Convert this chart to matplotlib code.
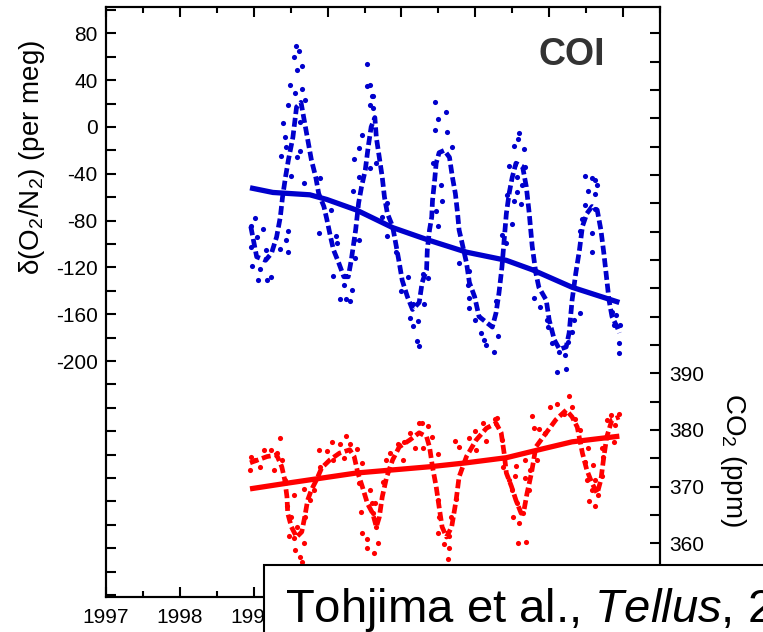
import numpy as np
import matplotlib

matplotlib.use("Agg")
import matplotlib.pyplot as plt
from matplotlib.patches import Rectangle
from matplotlib.ticker import MultipleLocator

plt.rcParams["font.family"] = ["Liberation Sans", "DejaVu Sans"]
plt.rcParams["mathtext.fontset"] = "custom"
plt.rcParams["mathtext.rm"] = "Liberation Sans"
plt.rcParams["mathtext.it"] = "Liberation Sans:italic"
plt.rcParams["mathtext.bf"] = "Liberation Sans:bold"
plt.rcParams["mathtext.default"] = "regular"

BLUE = "#0000cc"
RED = "#ff0000"

# ----------------------------------------------------------------------
# Data (Cape Ochi-ishi, COI)
# ----------------------------------------------------------------------
YEARS = [1997, 1998, 1999, 2000, 2001, 2002, 2003, 2004]
YEAR_LABELS = [1997, 1998, 1999]  # the rest sit behind the citation box
O2_LABELS = [80, 40, 0, -40, -80, -120, -160, -200]
CO2_LABELS = [360, 370, 380, 390]

# O2/N2 flask values (year, per meg)
O2_DOTS = [
    (1999.57, 69), (1999.61, 65), (1999.54, 60), (1999.65, 52), (1999.59, 49),
    (1999.49, 36), (1999.56, 29), (1999.66, 32), (1999.47, 19), (1999.70, 23),
    (1999.39, 3), (1999.62, 4), (1999.43, -9), (1999.44, -17), (1999.62, -21),
    (1999.37, -25), (1999.58, -26), (1999.51, -42), (1999.68, -48), (1999.90, -44),
    (1999.02, -78), (1998.96, -85), (1999.13, -87), (1999.47, -89), (1999.44, -97),
    (1999.04, -94), (1998.96, -103), (1999.36, -104), (1999.46, -107), (1999.16, -105),
    (1998.97, -119), (1999.08, -121), (1999.23, -128), (1999.06, -131), (1999.18, -131),
    (1999.89, -91), (2000.04, -71), (2000.11, -93), (2000.13, -99), (2000.07, -127),
    (2000.17, -147), (2000.25, -147), (2000.31, -149), (2000.33, -139), (2000.22, -135),
    (2000.37, -112), (2000.36, -97), (2000.43, -97), (2000.36, -27), (2000.42, -18),
    (2000.47, -7), (2000.53, 54), (2000.54, 35), (2000.60, 26), (2000.57, 19),
    (2000.35, -55), (2000.43, -43), (2000.62, 26), (2000.61, 16), (2000.57, 36),
    (2000.66, -31), (2000.58, -35), (2000.81, -65), (2000.73, -77), (2000.80, -93),
    (2000.93, -107), (2001.09, -128), (2001.00, -140), (2001.29, -126), (2001.36, -129),
    (2001.15, -151), (2001.30, -151), (2001.11, -163), (2001.15, -170), (2001.23, -166),
    (2001.21, -183), (2001.24, -187), (2001.46, 21), (2001.60, 13), (2001.50, 7),
    (2001.61, -4), (2001.68, -17), (2001.46, -3), (2001.43, -31), (2001.53, -50),
    (2001.55, -63), (2001.47, -72), (2001.50, -85), (2001.78, -116), (2001.91, -123),
    (2001.90, -135), (2001.92, -146), (2001.91, -155), (2002.08, -176), (2002.12, -182),
    (2002.14, -186), (2002.25, -192), (2002.00, -165), (2002.28, -149), (2002.59, -5),
    (2002.58, -10), (2002.52, -16), (2002.66, -19), (2002.46, -33), (2002.67, -34),
    (2002.56, -43), (2002.63, -50), (2002.56, -56), (2002.43, -58), (2002.53, -63),
    (2002.62, -66), (2002.50, -83), (2002.36, -92), (2002.41, -99), (2002.79, -146),
    (2002.87, -154), (2002.97, -165), (2002.99, -171), (2003.04, -185), (2003.13, -192),
    (2003.22, -195), (2003.25, -184), (2003.31, -175), (2003.42, -159), (2003.34, -165),
    (2003.49, -42), (2003.58, -44), (2003.62, -45), (2003.65, -50), (2003.52, -55),
    (2003.62, -57), (2003.49, -67), (2003.62, -70), (2003.44, -79), (2003.58, -91),
    (2003.42, -89), (2003.58, -107), (2003.85, -158), (2003.91, -161), (2003.88, -169),
    (2003.96, -169), (2003.94, -185), (2003.95, -193), (2002.31, -179), (2003.11, -209),
    (2003.23, -207),
]

# O2/N2 fitted seasonal curve
O2_FIT_T = [
    1998.96, 1999.04, 1999.16, 1999.24, 1999.31, 1999.36, 1999.39, 1999.43, 1999.47,
    1999.53, 1999.58, 1999.64, 1999.70, 1999.74, 1999.78, 1999.84, 1999.88, 1999.95,
    1999.99, 2000.04, 2000.08, 2000.15, 2000.22, 2000.28, 2000.32, 2000.38, 2000.42,
    2000.46, 2000.51, 2000.55, 2000.59, 2000.64, 2000.66, 2000.70, 2000.74, 2000.77,
    2000.81, 2000.88, 2000.93, 2000.97, 2001.01, 2001.08, 2001.15, 2001.24, 2001.28,
    2001.34, 2001.35, 2001.38, 2001.41, 2001.42, 2001.45, 2001.47, 2001.51, 2001.58,
    2001.65, 2001.69, 2001.73, 2001.76, 2001.78, 2001.82, 2001.88, 2001.92, 2001.99,
    2002.05, 2002.15, 2002.23, 2002.28, 2002.32, 2002.36, 2002.39, 2002.42, 2002.46,
    2002.50, 2002.55, 2002.64, 2002.69, 2002.73, 2002.77, 2002.82, 2002.86, 2002.96,
    2003.00, 2003.07, 2003.14, 2003.23, 2003.27, 2003.31, 2003.36, 2003.41, 2003.45,
    2003.51, 2003.58, 2003.65, 2003.70, 2003.74, 2003.77, 2003.81, 2003.85, 2003.92,
    2003.95,
]
O2_FIT_V = [
    -85, -111, -114, -108, -94, -77, -60, -43, -28,
    -9, 17, 21, 0, -14, -28, -43, -57, -68,
    -79, -94, -105, -116, -128, -128, -114, -88, -65,
    -51, -37, -17, 0, 8, -9, -26, -43, -60,
    -74, -85, -102, -116, -131, -145, -156, -150, -133,
    -122, -105, -88, -77, -63, -45, -31, -22, -20,
    -26, -43, -57, -74, -88, -99, -116, -133, -145,
    -162, -167, -171, -159, -142, -120, -97, -74, -56,
    -43, -31, -34, -51, -74, -102, -125, -137, -148,
    -165, -182, -190, -188, -176, -148, -125, -105, -85,
    -74, -68, -71, -88, -108, -125, -148, -162, -171,
    -176,
]

# O2/N2 long-term trend
O2_TREND_T = [1998.95, 1999.26, 1999.76, 1999.99, 2000.39, 2000.88, 2001.38,
              2001.88, 2002.42, 2002.77, 2003.31, 2003.95]
O2_TREND_V = [-52, -56, -58, -62, -71, -86, -97, -107, -114, -122, -137, -150]

# CO2 flask values (year, ppm)
CO2_DOTS = [
    (1999.35, 378.5), (1998.96, 375.3), (1998.95, 373.0), (1999.02, 374.7), (1999.14, 376.5),
    (1999.23, 376.5), (1999.31, 375.9), (1999.27, 373.0), (1999.09, 373.5), (1999.38, 374.7),
    (1999.43, 371.2), (1999.54, 368.5), (1999.45, 366.5), (1999.50, 364.7), (1999.58, 362.9),
    (1999.48, 361.3), (1999.54, 361.0), (1999.68, 360.1), (1999.56, 358.9), (1999.62, 357.6),
    (1999.66, 356.7), (1999.70, 364.7), (1999.68, 369.6), (1999.81, 369.4), (1999.76, 367.6),
    (1999.88, 376.5), (1999.90, 373.5), (1999.99, 376.2), (2000.06, 377.8), (2000.17, 377.6),
    (2000.25, 378.9), (2000.31, 377.6), (2000.40, 376.6), (2000.22, 375.0), (2000.08, 374.7),
    (2000.46, 374.2), (2000.42, 370.6), (2000.57, 369.4), (2000.45, 365.6), (2000.60, 367.1),
    (2000.47, 361.8), (2000.54, 360.7), (2000.54, 359.1), (2000.64, 367.1), (2000.61, 365.3),
    (2000.66, 362.9), (2000.68, 360.0), (2000.63, 358.3), (2000.75, 370.9), (2000.79, 374.7),
    (2000.84, 375.9), (2000.95, 377.6), (2001.02, 374.7), (2001.04, 377.9), (2001.11, 379.4),
    (2001.24, 381.3), (2001.28, 381.3), (2001.36, 380.7), (2001.42, 378.8), (2001.29, 376.8),
    (2001.18, 376.8), (2001.50, 375.8), (2001.49, 367.6), (2001.51, 364.7), (2001.49, 361.8),
    (2001.58, 359.9), (2001.64, 359.1), (2001.63, 357.2), (2001.65, 361.2), (2001.67, 364.7),
    (2001.74, 367.9), (2001.72, 378.1), (2001.78, 377.0), (2001.92, 378.5), (2001.99, 379.9),
    (2002.10, 381.2), (2002.26, 381.9), (2002.14, 378.0), (2002.01, 376.5), (2002.29, 382.1),
    (2002.36, 378.2), (2002.38, 373.5), (2002.55, 373.6), (2002.45, 371.2), (2002.54, 371.8),
    (2002.50, 369.4), (2002.56, 367.1), (2002.51, 364.7), (2002.59, 363.5), (2002.58, 360.0),
    (2002.68, 360.3), (2002.65, 365.3), (2002.72, 369.4), (2002.67, 371.5), (2002.74, 373.0),
    (2002.83, 374.7), (2002.79, 380.4), (2002.77, 382.5), (2002.86, 380.1), (2002.95, 379.4),
    (2003.01, 384.0), (2003.10, 384.6), (2003.27, 386.0), (2003.31, 384.1), (2003.20, 382.9),
    (2003.35, 381.9), (2003.42, 380.0), (2003.53, 376.8), (2003.49, 374.4), (2003.59, 373.9),
    (2003.51, 371.2), (2003.62, 371.2), (2003.58, 369.4), (2003.54, 367.5), (2003.62, 366.5),
    (2003.66, 368.5), (2003.71, 371.8), (2003.73, 375.3), (2003.72, 376.8), (2003.78, 381.8),
    (2003.84, 382.6), (2003.95, 382.9), (2003.89, 380.9), (2003.88, 377.9), (2002.67, 374.7),
]

# CO2 fitted seasonal curve
CO2_FIT_T = [
    1998.95, 1999.18, 1999.31, 1999.38, 1999.42, 1999.45, 1999.46, 1999.51, 1999.58,
    1999.65, 1999.69, 1999.73, 1999.78, 1999.85, 1999.92, 2000.03, 2000.16, 2000.30,
    2000.36, 2000.41, 2000.47, 2000.54, 2000.61, 2000.66, 2000.70, 2000.74, 2000.80,
    2000.88, 2000.97, 2001.11, 2001.24, 2001.34, 2001.38, 2001.42, 2001.47, 2001.51,
    2001.55, 2001.61, 2001.68, 2001.74, 2001.78, 2001.88, 2002.01, 2002.15, 2002.28,
    2002.35, 2002.39, 2002.42, 2002.49, 2002.55, 2002.62, 2002.66, 2002.70, 2002.76,
    2002.82, 2002.96, 2003.09, 2003.23, 2003.31, 2003.38, 2003.45, 2003.51, 2003.58,
    2003.65, 2003.70, 2003.74, 2003.78, 2003.85, 2003.95,
]
CO2_FIT_V = [
    374.2, 375.3, 375.6, 373.5, 371.2, 368.2, 365.3, 362.9, 361.1,
    362.0, 364.6, 367.6, 369.4, 371.2, 373.3, 374.7, 375.9, 376.5,
    375.3, 372.4, 370.0, 367.0, 365.3, 362.9, 364.6, 368.2, 371.7,
    374.7, 377.0, 378.2, 379.5, 378.8, 377.0, 373.5, 370.0, 366.4,
    362.9, 361.1, 362.9, 367.6, 371.7, 375.3, 378.2, 380.3, 381.2,
    379.5, 375.9, 372.4, 370.0, 367.6, 365.3, 365.9, 368.8, 372.4,
    377.0, 379.5, 381.8, 383.5, 382.3, 380.5, 375.9, 372.9, 370.6,
    368.8, 371.2, 375.3, 378.8, 381.8, 382.3,
]

# CO2 long-term trend
CO2_TREND_T = [1998.95, 1999.45, 2000.39, 2001.38, 2001.88, 2002.42, 2002.86,
               2003.31, 2003.95]
CO2_TREND_V = [369.6, 370.6, 372.4, 373.5, 374.2, 375.1, 376.5, 377.9, 378.9]


def main() -> None:
    fig = plt.figure(figsize=(7.63, 6.32), dpi=100)
    ax = fig.add_axes([0.1389, 0.0554, 0.7261, 0.934])
    ax2 = ax.twinx()

    # ------------------------------------------------------------------
    # O2/N2 (left axis)
    # ------------------------------------------------------------------
    o2_t, o2_v = zip(*O2_DOTS)
    ax.plot(o2_t, o2_v, "o", color=BLUE, ms=3.7, mew=0, zorder=2)
    ax.plot(O2_FIT_T, O2_FIT_V, color=BLUE, lw=3.4, dashes=(1.9, 0.8), zorder=3)
    ax.plot(O2_TREND_T, O2_TREND_V, color=BLUE, lw=3.8, solid_capstyle="butt",
            solid_joinstyle="round", zorder=4)

    # ------------------------------------------------------------------
    # CO2 (right axis)
    # ------------------------------------------------------------------
    co2_t, co2_v = zip(*CO2_DOTS)
    ax2.plot(co2_t, co2_v, "o", color=RED, ms=3.7, mew=0, zorder=2)
    ax2.plot(CO2_FIT_T, CO2_FIT_V, color=RED, lw=3.4, dashes=(1.9, 0.8), zorder=3)
    ax2.plot(CO2_TREND_T, CO2_TREND_V, color=RED, lw=3.8, solid_capstyle="butt",
             solid_joinstyle="round", zorder=4)

    # ------------------------------------------------------------------
    # Axes, ticks and labels
    # ------------------------------------------------------------------
    ax.set_xlim(1997, 2004.5)
    ax.set_xticks(YEARS)
    ax.set_xticklabels([str(y) if y in YEAR_LABELS else "" for y in YEARS])
    ax.xaxis.set_minor_locator(MultipleLocator(0.5))
    ax.tick_params(axis="x", which="both", direction="in", top=True,
                   bottom=True, width=1.5, labelsize=15, pad=8)
    ax.tick_params(axis="x", which="major", length=7)
    ax.tick_params(axis="x", which="minor", length=4)

    ax.set_ylim(-401.6, 102.7)
    o2_ticks = np.arange(-400, 101, 20)
    ax.set_yticks(o2_ticks)
    ax.set_yticklabels([str(v) if v in O2_LABELS else "" for v in o2_ticks])
    ax.tick_params(axis="y", direction="in", length=7, width=1.5,
                   labelsize=15, pad=6)

    ax2.set_ylim(350.52, 454.69)
    co2_ticks = np.arange(355, 455, 5)
    ax2.set_yticks(co2_ticks)
    ax2.set_yticklabels([str(v) if v in CO2_LABELS else "" for v in co2_ticks])
    ax2.tick_params(axis="y", direction="in", length=7, width=1.5,
                    labelsize=15, pad=7)

    for a in (ax, ax2):
        for spine in a.spines.values():
            spine.set_linewidth(1.5)

    ax.text(-0.1336, 0.744, "δ(O$_2$/N$_2$) (per meg)", transform=ax.transAxes,
            rotation=90, ha="center", va="center", fontsize=20)
    ax2.text(1.1318, 0.232, "CO$_2$ (ppm)", transform=ax2.transAxes,
             rotation=270, ha="center", va="center", fontsize=20)
    ax.text(0.841, 0.918, "COI", transform=ax.transAxes, ha="center",
            va="center", fontsize=27, fontweight="bold", color="#333333")

    # ------------------------------------------------------------------
    # Citation box overlapping the lower right corner
    # ------------------------------------------------------------------
    fig.add_artist(Rectangle((264 / 763, -0.1), 1.0, 0.206,
                             transform=fig.transFigure, facecolor="white",
                             edgecolor="black", lw=1.5, zorder=10))
    fig.text(285 / 763, 10 / 632, "Tohjima et al., $\\mathit{Tellus}$, 2005",
             fontsize=34, va="baseline", ha="left", zorder=11)

    fig.savefig("out.png", dpi=100)
    plt.close(fig)


if __name__ == "__main__":
    main()
